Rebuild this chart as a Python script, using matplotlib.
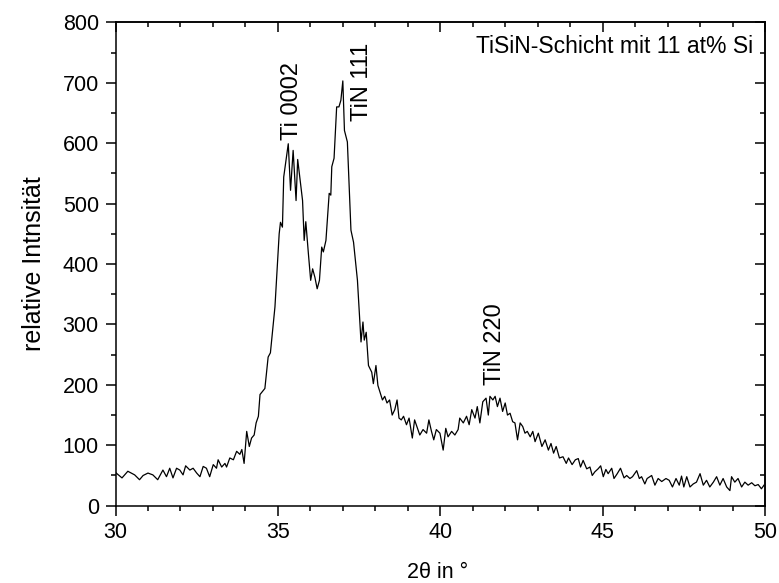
import matplotlib
matplotlib.use("Agg")
import matplotlib.pyplot as plt
from matplotlib.ticker import MultipleLocator

plt.rcParams['font.family'] = ['Liberation Sans', 'DejaVu Sans']

two_theta = [
    30.0, 30.2, 30.38, 30.59, 30.74, 30.85, 31.0, 31.15, 31.3, 31.46, 31.57, 31.67, 31.77, 31.88, 31.98,
    32.08, 32.16, 32.29, 32.39, 32.5, 32.6, 32.7, 32.8, 32.9, 33.01, 33.11, 33.16, 33.27, 33.37, 33.42,
    33.52, 33.63, 33.73, 33.83, 33.89, 33.96, 34.04, 34.12, 34.19, 34.27, 34.33, 34.4, 34.45, 34.54,
    34.60, 34.70, 34.77, 34.91, 35.04, 35.08, 35.14, 35.18, 35.32, 35.39, 35.47, 35.56, 35.61, 35.70,
    35.76, 35.81, 35.86, 35.94, 36.01, 36.07, 36.14, 36.21, 36.28, 36.35, 36.40, 36.48, 36.58, 36.63,
    36.66, 36.73, 36.81, 36.88, 36.94, 37.00, 37.05, 37.14, 37.25, 37.33, 37.45, 37.56, 37.62, 37.66,
    37.72, 37.79, 37.89, 37.94, 38.02, 38.08,
    38.22, 38.29, 38.36, 38.44, 38.52, 38.60, 38.67, 38.73, 38.80, 38.87, 38.96, 39.04, 39.14, 39.21,
    39.28, 39.37, 39.47, 39.58, 39.65, 39.73, 39.80, 39.88, 39.99, 40.09, 40.17, 40.24, 40.35, 40.45,
    40.55, 40.60, 40.71, 40.81, 40.89, 40.97, 41.07, 41.14, 41.22, 41.31, 41.41, 41.48, 41.53, 41.62,
    41.69, 41.76, 41.84, 41.92, 42.00, 42.07, 42.15, 42.23, 42.30, 42.38, 42.46, 42.54, 42.61, 42.68,
    42.77, 42.85, 42.92, 43.02, 43.13, 43.23, 43.33, 43.41, 43.49, 43.57, 43.67, 43.78, 43.88, 43.95,
    44.06, 44.16,
    44.25, 44.32, 44.4, 44.51, 44.61, 44.68, 44.76, 44.86, 44.94, 45.02, 45.1, 45.17, 45.28, 45.35,
    45.45, 45.55, 45.66, 45.74, 45.84, 45.92, 46.05, 46.13, 46.2, 46.3, 46.37, 46.51, 46.61, 46.71,
    46.82, 46.95, 47.05, 47.15, 47.26, 47.36, 47.43, 47.5, 47.59, 47.69, 47.79, 47.89, 48.0, 48.1,
    48.2, 48.3, 48.41, 48.51, 48.61, 48.71, 48.82, 48.92, 48.97, 49.07, 49.17, 49.28, 49.38, 49.48,
    49.59, 49.69, 49.79, 49.89, 49.97,
]

intensity = [
    55, 46, 57, 51, 43, 50, 54, 51, 43, 59, 48, 62, 46, 62, 59,
    51, 66, 59, 62, 54, 48, 65, 62, 48, 68, 62, 76, 64, 70, 64,
    79, 76, 90, 85, 93, 70, 123, 98, 112, 117, 137, 148, 184, 190,
    194, 246, 253, 329, 450, 469, 461, 544, 599, 522, 588, 505, 573, 533,
    505, 439, 470, 417, 373, 392, 378, 359, 373, 428, 420, 439, 517, 514,
    561, 575, 660, 660, 671, 703, 621, 602, 456, 436, 373, 271, 304, 274,
    287, 232, 221, 202, 232, 199,
    175, 181, 170, 175, 150, 159, 175, 145, 142, 148, 134, 145, 112, 142,
    131, 117, 126, 120, 142, 123, 109, 126, 120, 92, 128, 114, 123, 117,
    126, 145, 137, 148, 134, 159, 145, 164, 137, 172, 178, 150, 181, 175,
    181, 164, 178, 156, 170, 150, 153, 139, 137, 109, 137, 131, 120, 123,
    114, 123, 106, 120, 98, 109, 92, 103, 87, 98, 79, 81, 70, 79,
    68, 76,
    78, 64, 75, 61, 64, 50, 56, 61, 66, 48, 60, 53, 62, 45,
    53, 62, 46, 50, 45, 48, 58, 45, 48, 36, 45, 50, 34, 45,
    40, 45, 42, 31, 45, 34, 49, 31, 48, 31, 36, 39, 53, 34,
    42, 31, 39, 48, 34, 45, 31, 25, 48, 39, 45, 31, 39, 34,
    38, 33, 35, 28, 34,
]

peak_labels = ["Ti 0002", "TiN 111", "TiN 220"]
peak_x = [35.42, 37.58, 41.68]
peak_y = [605, 637, 200]

title_text = "TiSiN-Schicht mit 11 at% Si"
x_label = "2\u03b8 in \u00b0"
y_label = "relative Intnsit\u00e4t"

fig = plt.figure(figsize=(7.79, 5.83), dpi=100)
ax = fig.add_axes([115.5 / 779, 1 - 505.7 / 583, (765 - 115.5) / 779, (505.7 - 22.3) / 583])

ax.plot(two_theta, intensity, color='black', lw=0.9)

ax.set_xlim(30, 50)
ax.set_ylim(0, 800)
ax.xaxis.set_major_locator(MultipleLocator(5))
ax.xaxis.set_minor_locator(MultipleLocator(1))
ax.yaxis.set_major_locator(MultipleLocator(100))
ax.yaxis.set_minor_locator(MultipleLocator(50))

for sp in ax.spines.values():
    sp.set_linewidth(1.1)

ax.tick_params(axis='both', which='major', length=7, width=1.1, direction='out',
               labelsize=15.5, pad=5)
ax.tick_params(axis='both', which='minor', length=3.5, width=1.1, direction='out')

# mirrored ticks on top and right pointing inward
axt = ax.secondary_xaxis('top')
axt.xaxis.set_major_locator(MultipleLocator(5))
axt.xaxis.set_minor_locator(MultipleLocator(1))
axt.tick_params(which='major', direction='in', length=7, width=1.1, labeltop=False)
axt.tick_params(which='minor', direction='in', length=3.5, width=1.1)
axt.spines['top'].set_linewidth(1.1)
axr = ax.secondary_yaxis('right')
axr.yaxis.set_major_locator(MultipleLocator(100))
axr.yaxis.set_minor_locator(MultipleLocator(50))
axr.tick_params(which='major', direction='in', length=7, width=1.1, labelright=False)
axr.tick_params(which='minor', direction='in', length=3.5, width=1.1)
axr.spines['right'].set_linewidth(1.1)

for lab, px, py in zip(peak_labels, peak_x, peak_y):
    ax.text(px, py, lab, rotation=90, ha='center', va='bottom', fontsize=17)

ax.text(49.63, 748.6, title_text, ha='right', va='baseline', fontsize=16.5)

fig.text(438 / 779, 1 - 572 / 583, x_label, ha='center', va='center', fontsize=15.5)
fig.text(34 / 779, 1 - 264 / 583, y_label, ha='center', va='center', rotation=90, fontsize=18)

fig.savefig("out.png", dpi=100)
